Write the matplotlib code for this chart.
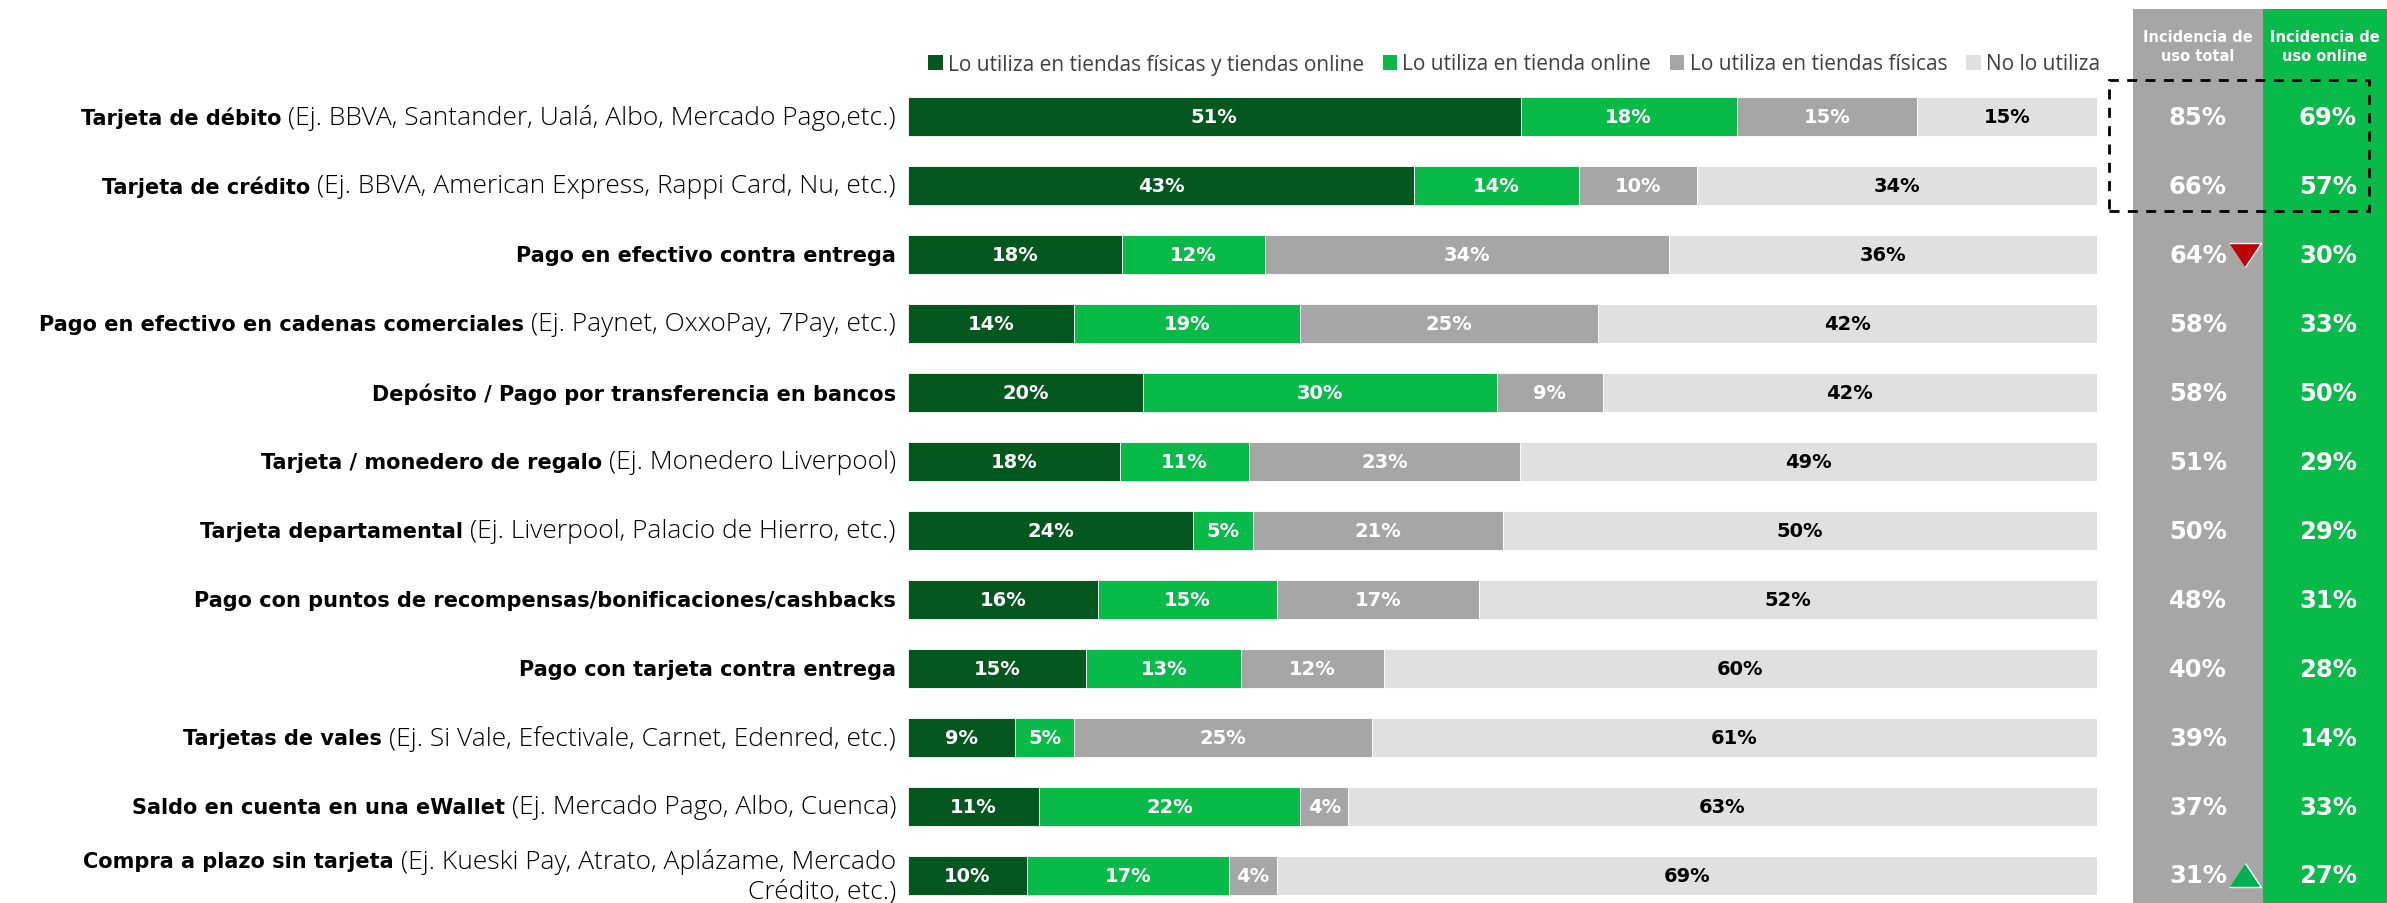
import matplotlib
matplotlib.use("Agg")
import matplotlib.pyplot as plt
from matplotlib.patches import Rectangle, Patch
from matplotlib.transforms import blended_transform_factory
import numpy as np

# ---------------- data ----------------
labels_bold = [
    "Tarjeta de débito",
    "Tarjeta de crédito",
    "Pago en efectivo contra entrega",
    "Pago en efectivo en cadenas comerciales",
    "Depósito / Pago por transferencia en bancos",
    "Tarjeta / monedero de regalo",
    "Tarjeta departamental",
    "Pago con puntos de recompensas/bonificaciones/cashbacks",
    "Pago con tarjeta contra entrega",
    "Tarjetas de vales",
    "Saldo en cuenta en una eWallet",
    "Compra a plazo sin tarjeta",
]
labels_regular = [
    "(Ej. BBVA, Santander, Ualá, Albo, Mercado Pago,etc.)",
    "(Ej. BBVA, American Express, Rappi Card, Nu, etc.)",
    "",
    "(Ej. Paynet, OxxoPay, 7Pay, etc.)",
    "",
    "(Ej. Monedero Liverpool)",
    "(Ej. Liverpool, Palacio de Hierro, etc.)",
    "",
    "",
    "(Ej. Si Vale, Efectivale, Carnet, Edenred, etc.)",
    "(Ej. Mercado Pago, Albo, Cuenca)",
    "(Ej. Kueski Pay, Atrato, Aplázame, Mercado\nCrédito, etc.)",
]
series_names = [
    "Lo utiliza en tiendas físicas y tiendas online",
    "Lo utiliza en tienda online",
    "Lo utiliza en tiendas físicas",
    "No lo utiliza",
]
ambos = [51, 43, 18, 14, 20, 18, 24, 16, 15, 9, 11, 10]
online = [18, 14, 12, 19, 30, 11, 5, 15, 13, 5, 22, 17]
fisicas = [15, 10, 34, 25, 9, 23, 21, 17, 12, 25, 4, 4]
no_utiliza = [15, 34, 36, 42, 42, 49, 50, 52, 60, 61, 63, 69]
incidencia_total = [85, 66, 64, 58, 58, 51, 50, 48, 40, 39, 37, 31]
incidencia_online = [69, 57, 30, 33, 50, 29, 29, 31, 28, 14, 33, 27]
header_total = "Incidencia de\nuso total"
header_online = "Incidencia de\nuso online"
arrow_down_row = 2
arrow_up_row = 11

# ---------------- style ----------------
W, H = 2387, 904
DARK = "#04581F"
GREEN = "#08BB48"
GREY = "#A6A6A6"
LIGHT = "#E0E0E0"
seg_colors = [DARK, GREEN, GREY, LIGHT]
txt_colors = ["white", "white", "white", "black"]
NUM_FONT = "DejaVu Sans"
LBL_FONT = "DejaVu Sans"
REG_FONT = "Open Sans"
LEG_FONT = "Open Sans"

fig = plt.figure(figsize=(W / 100, H / 100), dpi=100)
fig.patch.set_facecolor("white")

def fx(px):
    return px / W

def fy(py):
    return 1 - py / H

# right columns (drawn below the axes)
fig.patches.append(Rectangle((fx(2133), fy(904)), fx(2263) - fx(2133), fy(10) - fy(904),
                             transform=fig.transFigure, facecolor=GREY, edgecolor="none", zorder=0))
fig.patches.append(Rectangle((fx(2263), fy(904)), fx(2387) - fx(2263), fy(10) - fy(904),
                             transform=fig.transFigure, facecolor=GREEN, edgecolor="none", zorder=0))

# main axes: bars from x=908 to 2097, row0 center 118, row11 center 876.5
ax = fig.add_axes([fx(908), fy(904), fx(2097) - fx(908), fy(83.5) - fy(904)])
ax.set_zorder(2)
ax.patch.set_alpha(0)
n = len(labels_bold)
ylo, yhi = -0.5, 11 + (904 - 876.5) / ((876.5 - 118) / 11)
ax.set_ylim(yhi, ylo)
ax.set_xlim(0, 100)
ax.axis("off")

data = np.array([ambos, online, fisicas, no_utiliza], dtype=float)
sums = data.sum(axis=0)
norm = data / sums * 100
y = np.arange(n)
left = np.zeros(n)
for k in range(4):
    ax.barh(y, norm[k], left=left, height=0.566, color=seg_colors[k],
            edgecolor="white", linewidth=0.6, label=series_names[k])
    for i in range(n):
        ax.text(left[i] + norm[k][i] / 2, y[i], f"{int(data[k][i])}%",
                ha="center", va="center", color=txt_colors[k],
                fontsize=14, fontweight="bold", family=NUM_FONT)
    left += norm[k]

fig.text(fx(2198), fy(47), header_total, ha="center", va="center", color="white",
         fontsize=10.5, fontweight="bold", family=NUM_FONT, linespacing=1.3)
fig.text(fx(2325), fy(47), header_online, ha="center", va="center", color="white",
         fontsize=10.5, fontweight="bold", family=NUM_FONT, linespacing=1.3)

bt = blended_transform_factory(fig.transFigure, ax.transData)
for i in range(n):
    ax.text(fx(2198), y[i], f"{incidencia_total[i]}%", transform=bt, ha="center", va="center",
            color="white", fontsize=17.5, fontweight="bold", family=NUM_FONT, clip_on=False)
    ax.text(fx(2328), y[i], f"{incidencia_online[i]}%", transform=bt, ha="center", va="center",
            color="white", fontsize=17.5, fontweight="bold", family=NUM_FONT, clip_on=False)

tri_down = [(-1, 0.75), (1, 0.75), (0, -0.75)]
tri_up = [(-1, -0.75), (1, -0.75), (0, 0.75)]
ax.plot([fx(2245)], [arrow_down_row], transform=bt, marker=tri_down, markersize=23,
        color="#C00000", markeredgecolor="white", markeredgewidth=1, clip_on=False, linestyle="none")
ax.plot([fx(2245)], [arrow_up_row], transform=bt, marker=tri_up, markersize=23,
        color="#00B050", markeredgecolor="white", markeredgewidth=1, clip_on=False, linestyle="none")

# dashed box
box = Rectangle((fx(2109), fy(212)), fx(2369) - fx(2109), fy(81) - fy(212),
                transform=fig.transFigure, facecolor="none", edgecolor="black",
                linewidth=2, linestyle=(0, (3.6, 3)), zorder=10)
fig.add_artist(box)

# legend
handles = [Patch(facecolor=c, edgecolor="none") for c in seg_colors]
fig.legend(handles, series_names, loc="center right", bbox_to_anchor=(fx(2100), fy(65)),
           ncol=4, frameon=False, handlelength=0.7, handleheight=0.7,
           handletextpad=0.25, columnspacing=0.9, borderaxespad=0, borderpad=0,
           labelcolor="#404040", prop={"family": LEG_FONT, "size": 15})

# left labels (bold + regular)
fig.canvas.draw()
renderer = fig.canvas.get_renderer()
xr = fx(896)
REG_SIZE = 19
BOLD_SIZE = 15
for i in range(n):
    reg = labels_regular[i]
    if "\n" in reg:
        first, second = reg.split("\n")
        ax.text(xr, y[i] + 0.22, second, transform=bt, ha="right", va="center",
                fontsize=REG_SIZE, family=REG_FONT, fontweight="light", color="black", clip_on=False)
        t1 = ax.text(xr, y[i] - 0.21, first, transform=bt, ha="right", va="center",
                     fontsize=REG_SIZE, family=REG_FONT, fontweight="light", color="black", clip_on=False)
        ybold = y[i] - 0.21
    else:
        ybold = y[i]
        t1 = None
        if reg:
            t1 = ax.text(xr, y[i], reg, transform=bt, ha="right", va="center",
                         fontsize=REG_SIZE, family=REG_FONT, fontweight="light", color="black", clip_on=False)
    if t1 is not None:
        bb = t1.get_window_extent(renderer)
        xb = fx(bb.x0 - 7)
    else:
        xb = xr
    ax.text(xb, ybold, labels_bold[i], transform=bt, ha="right", va="center",
            fontsize=BOLD_SIZE, fontweight="bold", family=LBL_FONT, color="black", clip_on=False)

fig.savefig("out.png", dpi=100, facecolor="white")
